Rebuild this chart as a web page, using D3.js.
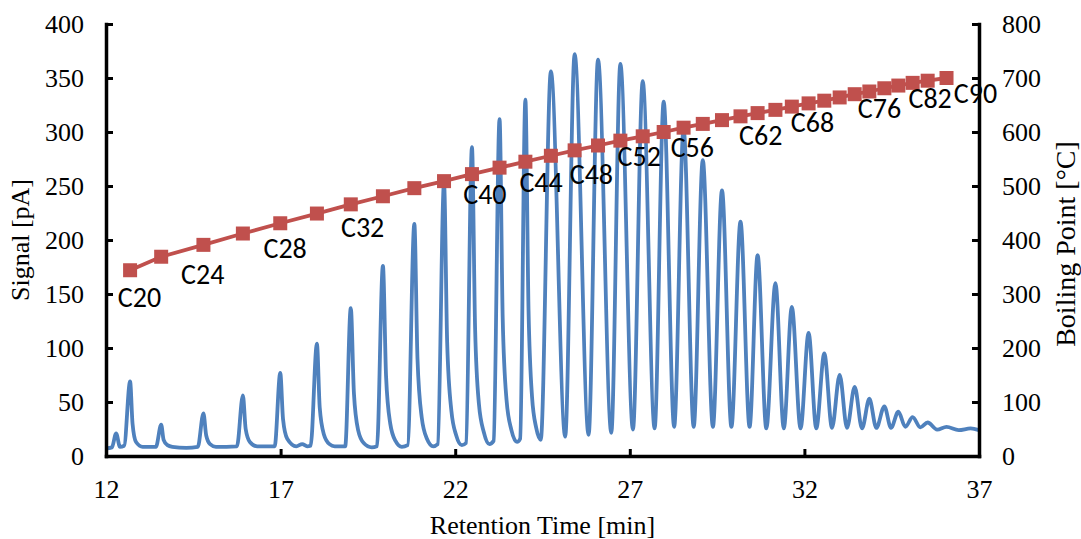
<!DOCTYPE html>
<html>
<head>
<meta charset="utf-8">
<script src="https://cdn.jsdelivr.net/npm/d3@7"></script>
<style>
  html, body { margin: 0; padding: 0; background: #fff; }
  svg { display: block; }
</style>
</head>
<body>
<svg id="chart" width="1081" height="539"></svg>
<script>
// ---- Data ----
// Chromatogram trace (retention time in min, signal in pA)
const traceTime = [
  12.00, 12.17, 12.29, 12.40, 12.52, 12.69, 12.76, 12.86, 13.05,
  13.43, 13.58, 13.65, 13.76, 13.90,
  14.30, 14.63, 14.79, 14.87, 14.98, 15.15,
  15.75, 15.92, 16.00, 16.12, 16.33,
  16.83, 16.99, 17.07, 17.19, 17.45, 17.62, 17.76,
  17.86, 18.04, 18.12, 18.24, 18.40, 18.55,
  18.85, 19.01, 19.10, 19.22, 19.38, 19.61,
  19.76, 19.93, 20.02, 20.14, 20.29, 20.47,
  20.64, 20.83, 20.92, 21.04, 21.19, 21.37,
  21.50, 21.68, 21.77, 21.89, 22.03, 22.19,
  22.31, 22.48, 22.57, 22.68, 22.82, 22.98,
  23.10, 23.27, 23.36, 23.47, 23.61, 23.77,
  23.86, 24.01, 24.10, 24.20, 24.32, 24.45,
  24.74, 25.15, 25.42, 25.82, 26.09, 26.47, 26.73, 27.09,
  27.37, 27.71, 27.97, 28.27, 28.54, 28.83, 29.09, 29.38,
  29.64, 29.91, 30.17, 30.43, 30.66, 30.91, 31.17, 31.41,
  31.64, 31.89, 32.12, 32.34, 32.57, 32.79, 33.01, 33.22,
  33.44, 33.65, 33.86, 34.06, 34.29, 34.48, 34.69, 34.89,
  35.10, 35.32, 35.53, 35.80, 36.07, 36.42, 36.76, 37.00
];
const traceSignal = [
  7, 8, 21, 8.5, 9.5, 69, 30, 13, 8.5,
  8.5, 29, 15, 10, 8.5,
  7.5, 8.5, 39.5, 19, 11, 8.5,
  9, 56, 25, 13, 9,
  9, 77, 34, 16, 9, 11, 9,
  9.5, 104, 45, 20, 11, 9,
  9, 137, 58, 24, 12, 8,
  9, 176, 74, 30, 14, 8.5,
  10, 215, 90, 36, 16, 9,
  11, 253, 105, 42, 19, 10,
  12, 286, 118, 48, 22, 11,
  14, 312, 128, 52, 24, 13,
  16, 330, 135, 55, 26, 15,
  356, 18, 372, 19.5, 367, 21.5, 363, 24.5,
  347, 25.5, 328, 27, 303, 27, 274, 27,
  246, 27, 217, 27, 186, 25.5, 160, 25.5,
  138, 25.5, 114, 25.5, 95, 26, 75, 26,
  64, 25.5, 53, 26, 46, 26, 41, 27,
  36, 26.5, 31, 24.5, 27, 24, 25.5, 24
];

// n-alkane boiling points (carbon number, retention time in min, boiling point in °C)
const carbonNumbers = [20,22,24,26,28,30,32,34,36,38,40,42,44,46,48,50,52,54,56,58,60,62,64,66,68,70,72,74,76,78,80,82,84,86,88,90];
const bpTime = [12.69,13.58,14.79,15.92,16.99,18.04,19.01,19.93,20.83,21.68,22.48,23.27,24.01,24.74,25.42,26.09,26.73,27.37,27.97,28.54,29.09,29.64,30.17,30.66,31.17,31.64,32.12,32.57,33.01,33.44,33.86,34.29,34.69,35.10,35.53,36.07];
const bpTemp = [344,369,391,412,431,449,466,481,496,509,522,534,545,556,566,575,584,592,600,608,615,622,629,635,641,647,653,658,664,670,675,681,686,691,695,700];

// Carbon-number annotations (anchor in data units: time, °C)
const labelNames = ["C20","C24","C28","C32","C40","C44","C48","C52","C56","C62","C68","C76","C82","C90"];
const labelTimes = [12.96,14.77,17.13,19.35,22.85,24.46,25.90,27.27,28.79,30.75,32.23,34.15,35.60,36.90];
const labelTemps = [293,336,384,424,485,506,522,554,572,594,617,643,663,671];

// Axis ticks
const xTicks = [12,17,22,27,32,37];
const ySignalTicks = [0,50,100,150,200,250,300,350,400];
const yBPTicks = [0,100,200,300,400,500,600,700,800];

// ---- Layout ----
const svg = d3.select("#chart");
const plotL = 106, plotR = 979, plotT = 24, plotB = 456;

const x = d3.scaleLinear().domain([12, 37]).range([plotL, plotR]);
const ySig = d3.scaleLinear().domain([0, 400]).range([plotB, plotT]);
const yBP = d3.scaleLinear().domain([0, 800]).range([plotB, plotT]);

const blue = "#4F81BD", red = "#C0504D";
const serif = "'Liberation Serif', 'Times New Roman', serif";
const sans = "Carlito, Calibri, 'Open Sans', sans-serif";

// Signal trace
const trace = traceTime.map((t, i) => [t, traceSignal[i]]);
svg.append("path")
  .datum(trace)
  .attr("fill", "none")
  .attr("stroke", blue)
  .attr("stroke-width", 3.8)
  .attr("stroke-linejoin", "round")
  .attr("d", d3.line().x(d => x(d[0])).y(d => ySig(d[1])).curve(d3.curveMonotoneX));

// Boiling point line + markers
const bp = bpTime.map((t, i) => ({ t, v: bpTemp[i], c: carbonNumbers[i] }));
svg.append("path")
  .datum(bp)
  .attr("fill", "none")
  .attr("stroke", red)
  .attr("stroke-width", 3.8)
  .attr("d", d3.line().x(d => x(d.t)).y(d => yBP(d.v)));
const ms = 14;
svg.append("g").selectAll("rect")
  .data(bp).join("rect")
  .attr("x", d => x(d.t) - ms / 2)
  .attr("y", d => yBP(d.v) - ms / 2)
  .attr("width", ms).attr("height", ms)
  .attr("fill", red);

// Labels
svg.append("g").selectAll("text")
  .data(labelNames).join("text")
  .attr("x", (d, i) => x(labelTimes[i]))
  .attr("y", (d, i) => yBP(labelTemps[i]))
  .attr("dy", "0.34em")
  .attr("text-anchor", "middle")
  .attr("font-family", sans)
  .attr("font-size", 28)
  .attr("fill", "#000")
  .text(d => d);

// Axes
function styleAxis(g) {
  g.select(".domain").attr("stroke", "#000").attr("stroke-width", 3.5).attr("stroke-linecap", "square");
  g.selectAll(".tick line").attr("stroke", "#000").attr("stroke-width", 3);
  g.selectAll(".tick text").attr("font-family", serif).attr("font-size", 26).attr("fill", "#000");
}

svg.append("g")
  .attr("transform", `translate(0,${plotB})`)
  .call(d3.axisBottom(x).tickValues(xTicks).tickFormat(d3.format("d")).tickSize(-7).tickSizeOuter(0).tickPadding(24))
  .call(styleAxis);

svg.append("g")
  .attr("transform", `translate(${plotL},0)`)
  .call(d3.axisLeft(ySig).tickValues(ySignalTicks).tickFormat(d3.format("d")).tickSize(-7).tickSizeOuter(0).tickPadding(22))
  .call(styleAxis);

svg.append("g")
  .attr("transform", `translate(${plotR},0)`)
  .call(d3.axisRight(yBP).tickValues(yBPTicks).tickFormat(d3.format("d")).tickSize(-7).tickSizeOuter(0).tickPadding(23))
  .call(styleAxis);

// Axis titles
svg.append("text")
  .attr("x", (plotL + plotR) / 2).attr("y", 534)
  .attr("text-anchor", "middle")
  .attr("font-family", serif).attr("font-size", 26)
  .text("Retention Time [min]");

svg.append("text")
  .attr("transform", `translate(29,${(plotT + plotB) / 2}) rotate(-90)`)
  .attr("text-anchor", "middle")
  .attr("font-family", serif).attr("font-size", 26)
  .text("Signal [pA]");

svg.append("text")
  .attr("transform", `translate(1075,${(plotT + plotB) / 2 + 4}) rotate(-90)`)
  .attr("text-anchor", "middle")
  .attr("font-family", serif).attr("font-size", 28)
  .text("Boiling Point [°C]");
</script>
</body>
</html>
